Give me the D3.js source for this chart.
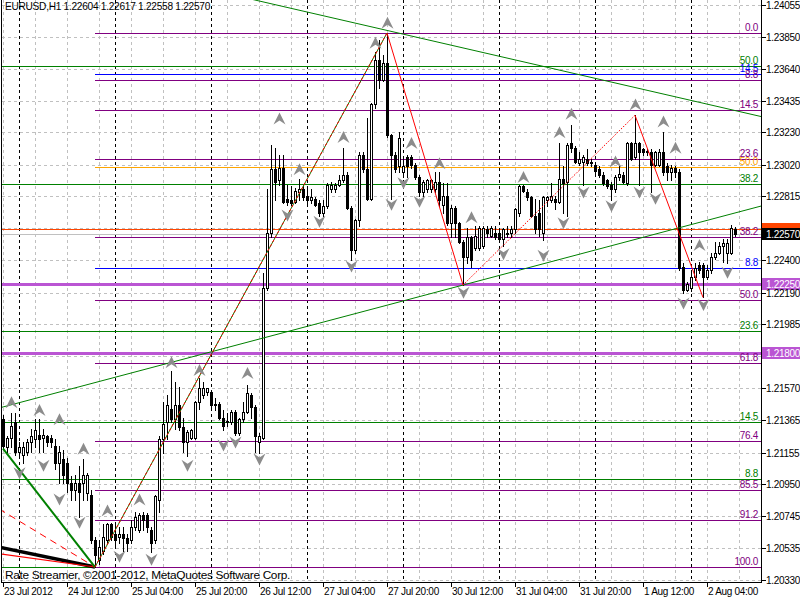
<!DOCTYPE html>
<html><head><meta charset="utf-8">
<script src="https://cdn.jsdelivr.net/npm/d3@7"></script>
<style>
body{margin:0;background:#fff}
svg{display:block}
text{font-family:"Liberation Sans",Arial,sans-serif;font-size:10px;letter-spacing:-0.3px}
</style>
</head><body>
<svg id="c" width="800" height="600"></svg>
<script>
// ---------------- DATA ----------------
const symbolTitle = "EURUSD,H1  1.22604 1.22617 1.22558 1.22570";
const copyright = "Rate Streamer, \u00a92001-2012, MetaQuotes Software Corp.";

const opens = [1.2137,1.2119,1.2125,1.2135,1.2116,1.2114,1.2116,1.2122,1.2124,1.2127,1.2125,1.2126,1.2125,1.2120,1.2109,1.2111,1.2109,1.2096,1.2091,1.2096,
1.2096,1.2089,1.2088,1.2059,1.2046,1.2052,1.2059,1.2069,1.2063,1.2061,1.2063,1.2060,1.2059,1.2067,1.2065,1.2075,1.2075,1.2065,1.2059,1.2085,
1.2124,1.2135,1.2144,1.2137,1.2146,1.2132,1.2122,1.2125,1.2125,1.2148,1.2153,1.2155,1.2155,1.2147,1.2147,1.2138,1.2135,1.2135,1.2142,1.2128,
1.2137,1.2142,1.2153,1.2145,1.2122,1.2125,1.2222,1.2258,1.2299,1.2292,1.2300,1.2280,1.2279,1.2278,1.2284,1.2286,1.2282,1.2279,1.2280,1.2277,
1.2271,1.2275,1.2286,1.2286,1.2289,1.2292,1.2295,1.2274,1.2247,1.2266,1.2308,1.2299,1.2280,1.2341,1.2370,1.2357,1.2368,1.2321,1.2308,1.2301,
1.2297,1.2307,1.2307,1.2302,1.2294,1.2284,1.2286,1.2286,1.2286,1.2291,1.2276,1.2282,1.2264,1.2274,1.2264,1.2252,1.2242,1.2255,1.2248,1.2248,
1.2249,1.2260,1.2256,1.2258,1.2258,1.2254,1.2257,1.2258,1.2260,1.2271,1.2288,1.2284,1.2281,1.2269,1.2271,1.2258,1.2279,1.2279,1.2280,1.2278,
1.2293,1.2291,1.2316,1.2313,1.2303,1.2304,1.2306,1.2303,1.2302,1.2299,1.2295,1.2292,1.2289,1.2286,1.2294,1.2295,1.2290,1.2316,1.2307,1.2316,
1.2312,1.2310,1.2310,1.2302,1.2302,1.2310,1.2301,1.2297,1.2300,1.2297,1.2236,1.2221,1.2222,1.2229,1.2237,1.2237,1.2229,1.2234,1.2242,1.2245,
1.2249,1.2245,1.2245,1.22604];
const highs = [1.2140,1.2126,1.2141,1.2141,1.2122,1.2122,1.2124,1.2131,1.2137,1.2137,1.2131,1.2127,1.2127,1.2124,1.2120,1.2117,1.2112,1.2100,1.2101,1.2107,
1.2111,1.2102,1.2091,1.2061,1.2059,1.2069,1.2070,1.2070,1.2070,1.2067,1.2067,1.2063,1.2072,1.2077,1.2076,1.2077,1.2076,1.2067,1.2088,1.2126,
1.2148,1.2153,1.2168,1.2161,1.2158,1.2138,1.2130,1.2131,1.2149,1.2164,1.2161,1.2157,1.2156,1.2151,1.2148,1.2143,1.2141,1.2143,1.2143,1.2138,
1.2148,1.2159,1.2154,1.2146,1.2128,1.2232,1.2286,1.2315,1.2313,1.2308,1.2308,1.2289,1.2288,1.2287,1.2293,1.2289,1.2287,1.2286,1.2281,1.2279,
1.2279,1.2290,1.2291,1.2290,1.2295,1.2313,1.2297,1.2275,1.2267,1.2310,1.2310,1.2332,1.2342,1.2375,1.2383,1.2373,1.2387,1.2322,1.2310,1.2323,
1.2307,1.2308,1.2308,1.2303,1.2295,1.2292,1.2293,1.2293,1.2297,1.2297,1.2290,1.2290,1.2276,1.2275,1.2265,1.2253,1.2261,1.2256,1.2262,1.2262,
1.2262,1.2262,1.2262,1.2262,1.2261,1.2261,1.2262,1.2262,1.2274,1.2289,1.2289,1.2286,1.2282,1.2280,1.2279,1.2282,1.2282,1.2290,1.2282,1.2316,
1.2301,1.2316,1.2328,1.2314,1.2310,1.2308,1.2312,1.2306,1.2303,1.2301,1.2297,1.2293,1.2291,1.2295,1.2302,1.2297,1.2317,1.2317,1.2334,1.2317,
1.2313,1.2312,1.2312,1.2311,1.2312,1.2323,1.2303,1.2302,1.2301,1.2299,1.2238,1.2226,1.2234,1.2238,1.2239,1.2238,1.2237,1.2245,1.2252,1.2252,
1.2254,1.2254,1.2263,1.22617];
const lows = [1.2118,1.2116,1.2119,1.2114,1.2112,1.2109,1.2114,1.2116,1.2119,1.2116,1.2116,1.2120,1.2119,1.2105,1.2096,1.2096,1.2090,1.2085,1.2085,1.2074,
1.2085,1.2085,1.2057,1.2041,1.2043,1.2050,1.2056,1.2059,1.2054,1.2057,1.2052,1.2052,1.2057,1.2065,1.2064,1.2065,1.2064,1.2051,1.2057,1.2077,
1.2115,1.2124,1.2135,1.2131,1.2130,1.2116,1.2113,1.2124,1.2124,1.2144,1.2151,1.2153,1.2145,1.2143,1.2137,1.2130,1.2133,1.2134,1.2127,1.2127,
1.2135,1.2141,1.2138,1.2116,1.2115,1.2124,1.2221,1.2255,1.2279,1.2289,1.2277,1.2276,1.2276,1.2277,1.2279,1.2279,1.2277,1.2277,1.2275,1.2269,
1.2269,1.2274,1.2284,1.2284,1.2288,1.2291,1.2273,1.2240,1.2245,1.2262,1.2297,1.2279,1.2279,1.2339,1.2352,1.2356,1.2320,1.2280,1.2297,1.2297,
1.2294,1.2294,1.2300,1.2293,1.2282,1.2282,1.2284,1.2284,1.2284,1.2275,1.2271,1.2263,1.2255,1.2255,1.2251,1.2224,1.2238,1.2236,1.2247,1.2247,
1.2248,1.2255,1.2255,1.2254,1.2253,1.2249,1.2255,1.2255,1.2258,1.2269,1.2284,1.2279,1.2268,1.2258,1.2256,1.2253,1.2275,1.2278,1.2273,1.2277,
1.2271,1.2269,1.2310,1.2303,1.2302,1.2289,1.2302,1.2301,1.2296,1.2294,1.2289,1.2287,1.2279,1.2284,1.2292,1.2290,1.2289,1.2305,1.2306,1.2289,
1.2308,1.2308,1.2284,1.2301,1.2301,1.2295,1.2292,1.2292,1.2294,1.2234,1.2219,1.2220,1.2220,1.2227,1.2232,1.2216,1.2228,1.2232,1.2241,1.2244,
1.2239,1.2238,1.2244,1.22558];
const closes = [1.2120,1.2125,1.2133,1.2116,1.2119,1.2119,1.2122,1.2126,1.2130,1.2124,1.2127,1.2122,1.2122,1.2109,1.2116,1.2101,1.2096,1.2091,1.2096,1.2090,
1.2101,1.2101,1.2059,1.2049,1.2054,1.2061,1.2069,1.2061,1.2059,1.2063,1.2060,1.2057,1.2067,1.2074,1.2075,1.2072,1.2067,1.2057,1.2087,1.2124,
1.2134,1.2146,1.2137,1.2146,1.2132,1.2122,1.2129,1.2130,1.2148,1.2157,1.2157,1.2157,1.2146,1.2146,1.2138,1.2133,1.2136,1.2142,1.2128,1.2137,
1.2142,1.2154,1.2145,1.2126,1.2126,1.2222,1.2258,1.2299,1.2291,1.2300,1.2278,1.2278,1.2277,1.2285,1.2286,1.2281,1.2279,1.2281,1.2276,1.2271,
1.2275,1.2289,1.2289,1.2289,1.2292,1.2295,1.2274,1.2247,1.2266,1.2308,1.2299,1.2280,1.2341,1.2370,1.2357,1.2368,1.2321,1.2308,1.2299,1.2319,
1.2301,1.2301,1.2302,1.2294,1.2284,1.2291,1.2292,1.2292,1.2291,1.2279,1.2282,1.2264,1.2274,1.2264,1.2252,1.2242,1.2255,1.2240,1.2256,1.2261,
1.2261,1.2258,1.2261,1.2255,1.2254,1.2260,1.2258,1.2260,1.2273,1.2288,1.2285,1.2281,1.2269,1.2260,1.2260,1.2281,1.2281,1.2282,1.2278,1.2293,
1.2290,1.2315,1.2313,1.2304,1.2306,1.2307,1.2303,1.2304,1.2298,1.2295,1.2290,1.2288,1.2286,1.2294,1.2296,1.2291,1.2316,1.2306,1.2316,1.2310,
1.2310,1.2311,1.2302,1.2310,1.2310,1.2297,1.2297,1.2300,1.2297,1.2235,1.2221,1.2225,1.2229,1.2235,1.2234,1.2229,1.2234,1.2242,1.2245,1.2249,
1.2251,1.2251,1.2261,1.22570];

const priceTicks = [1.24055,1.23850,1.23640,1.23435,1.23230,1.23020,1.22815,1.22610,1.22400,1.22190,1.21985,1.21780,1.21570,1.21365,1.21155,1.20950,1.20745,1.20535,1.20330];
const timeTickIdx = [0,16,32,48,64,80,96,112,128,144,160,176];
const timeTickLabels = ["23 Jul 2012","24 Jul 12:00","25 Jul 04:00","25 Jul 20:00","26 Jul 12:00","27 Jul 04:00","27 Jul 20:00","30 Jul 12:00","31 Jul 04:00","31 Jul 20:00","1 Aug 12:00","2 Aug 04:00"];
const daySeparatorIdx = [4,28,52,76,100,124,148,172];

// fractal markers [bar index, price]
const fractalUp = [[2,1.2148],[9,1.2143],[14,1.2137],[20,1.2118],[26,1.2078],[34,1.2085],[42,1.2174],[49,1.2169],[61,1.2167],[69,1.2332],[74,1.2299],[85,1.2320],[93,1.2381],[96,1.2394],[102,1.2316],[109,1.2303],[117,1.2268],[130,1.2294],[139,1.2323],[142,1.2335],[153,1.2304],[158,1.2341],[165,1.2330],[168,1.2313],[174,1.2250]];
const fractalDown = [[4,1.2102],[10,1.2107],[14,1.2085],[19,1.2070],[29,1.2048],[37,1.2046],[46,1.2107],[55,1.2120],[58,1.2122],[64,1.2111],[71,1.2269],[79,1.2265],[87,1.2236],[97,1.2276],[100,1.2290],[104,1.2278],[115,1.2219],[125,1.2244],[135,1.2243],[140,1.2264],[145,1.2284],[152,1.2275],[159,1.2284],[163,1.2280],[170,1.2212],[175,1.2211],[181,1.2232]];

// Fibonacci sets
const fibPurpleStart = 23, fibPurpleHigh = 1.23873, fibPurpleLow = 1.20413;
const fibPurpleLevels = [0,8.8,14.5,23.6,38.2,50.0,61.8,76.4,85.5,91.2,100.0];
const fibGreenBase = 1.20413, fibGreenRange = 0.06492;
const fibGreenLevels = [0,8.8,14.5,23.6,38.2,50.0];
const fibBlueStart = 23, fibBlueBase = 1.20413, fibBlueRange = 0.2201;
const fibBlueLevels = [8.8,14.5];
const fibOrangeStart = 23, fibOrangePrice = 1.23005;

// horizontal lines
const hLinePrices = [1.22600, 1.22250, 1.21800];
const hLineColors = ["#ff4500", "#ba55d3", "#ba55d3"];
const hLineWidths = [1, 3, 3];
const bidPrice = 1.22570;

// trend lines [bar index, price]
const trendUp = [[0,1.2145],[115,1.2224]];
const trendDown = [[96,1.2389],[158,1.2352]];
const zigzag = [[23,1.20413],[96,1.23873],[115,1.2224],[158,1.2334],[175,1.2216]];
const llGreen = [[0,1.2118],[23,1.20413]];
const llRedDash = [[-1,1.2079],[23,1.20413]];
const llBlack = [[-1,1.20542],[23,1.20413]];
const llRed = [[-1,1.2050],[23,1.20413]];

// ---------------- DRAW ----------------
const svg = d3.select("#c");
const plotL = 2, plotR = 761, plotB = 582;
const x = d3.scaleLinear().domain([0,183]).range([3,735]);
const y = d3.scaleLinear().domain([1.20316,1.24087]).range([582,0]);
const lastIdx = (plotR - 3) / 4 + 1;

svg.append("defs").append("clipPath").attr("id","plot")
  .append("rect").attr("x",plotL).attr("y",0).attr("width",plotR-plotL).attr("height",plotB);

const crisp = svg.append("g").attr("shape-rendering","crispEdges").attr("clip-path","url(#plot)");
// grid
priceTicks.forEach(p => {
  const yy = Math.round(y(p)) + 0.5;
  crisp.append("line").attr("x1",plotL).attr("x2",plotR).attr("y1",yy).attr("y2",yy)
    .attr("stroke","#c0c0c0").attr("stroke-dasharray","3,3");
});
for (let i = 0; i <= 190; i += 8) {
  const xx = Math.round(x(i)) + 0.5;
  crisp.append("line").attr("x1",xx).attr("x2",xx).attr("y1",0).attr("y2",plotB)
    .attr("stroke","#c0c0c0").attr("stroke-dasharray","3,3");
}
daySeparatorIdx.forEach(i => {
  const xx = Math.round(x(i)) + 0.5;
  crisp.append("line").attr("x1",xx).attr("x2",xx).attr("y1",0).attr("y2",plotB)
    .attr("stroke","#000").attr("stroke-dasharray","3,3");
});

function hline(p, x0, color, w) {
  const yy = Math.round(y(p)) + (w % 2 ? 0.5 : 0);
  crisp.append("line").attr("x1",x0).attr("x2",plotR).attr("y1",yy).attr("y2",yy)
    .attr("stroke",color).attr("stroke-width",w);
  return yy;
}
const labels = [];
// green fib (full width)
fibGreenLevels.forEach(l => {
  const p = fibGreenBase + l/100*fibGreenRange;
  const yy = hline(p, plotL, "#008000", 1);
  if (l > 0) labels.push([yy, l.toFixed(1), "#008000"]);
});
// blue fib
fibBlueLevels.forEach(l => {
  const p = fibBlueBase + l/100*fibBlueRange;
  const yy = hline(p, x(fibBlueStart), "#0000ff", 1);
  labels.push([yy, l.toFixed(1), "#0000ff"]);
});
// orange fib
{ const yy = hline(fibOrangePrice, x(fibOrangeStart), "#ffa500", 1); labels.push([yy, "50.0", "#ffa500"]); }
// horizontal lines
hLinePrices.forEach((p,k) => hline(p, plotL, hLineColors[k], hLineWidths[k]));
hline(bidPrice, plotL, "#c0c0c0", 1);
// purple fib
fibPurpleLevels.forEach(l => {
  const p = fibPurpleHigh - l/100*(fibPurpleHigh - fibPurpleLow);
  const yy = hline(p, x(fibPurpleStart), "#800080", 1);
  labels.push([yy, l.toFixed(1), "#800080"]);
});

// candles
const cg = svg.append("g").attr("shape-rendering","crispEdges").attr("clip-path","url(#plot)");
opens.forEach((o,i) => {
  const c = closes[i], cx = Math.round(x(i));
  cg.append("line").attr("x1",cx+0.5).attr("x2",cx+0.5)
    .attr("y1",Math.round(y(highs[i]))).attr("y2",Math.round(y(lows[i]))+1).attr("stroke","#000");
  const top = Math.round(y(Math.max(o,c))), bot = Math.round(y(Math.min(o,c)));
  if (c > o) {
    cg.append("rect").attr("x",cx-0.5).attr("y",top+0.5).attr("width",2).attr("height",Math.max(1,bot-top))
      .attr("fill","#fff").attr("stroke","#000");
  } else {
    cg.append("rect").attr("x",cx-1).attr("y",top).attr("width",3).attr("height",Math.max(1,bot-top+1))
      .attr("fill","#000");
  }
});

// trend / zigzag lines
const lg = svg.append("g").attr("clip-path","url(#plot)");
function extLine(pts, color, w, dash) {
  const [a,b] = pts;
  const k = (b[1]-a[1])/(b[0]-a[0]);
  const i0 = -2, i1 = lastIdx + 2;
  lg.append("line").attr("x1",x(i0)).attr("y1",y(a[1]+k*(i0-a[0])))
    .attr("x2",x(i1)).attr("y2",y(a[1]+k*(i1-a[0])))
    .attr("stroke",color).attr("stroke-width",w).attr("stroke-dasharray",dash||null);
}
function seg(a, b, color, w, dash) {
  lg.append("line").attr("x1",x(a[0])).attr("y1",y(a[1])).attr("x2",x(b[0])).attr("y2",y(b[1]))
    .attr("stroke",color).attr("stroke-width",w).attr("stroke-dasharray",dash||null);
}
extLine(trendUp, "#008000", 1);
extLine(trendDown, "#008000", 1);
seg(llBlack[0], llBlack[1], "#000", 3.5);
seg(llRed[0], llRed[1], "#ff0000", 1.2);
seg(llRedDash[0], llRedDash[1], "#ff0000", 1, "7,5");
seg(llGreen[0], llGreen[1], "#008000", 2);
seg(zigzag[0], zigzag[1], "#008000", 1);
seg(zigzag[0], zigzag[1], "#ff0000", 1, "3,2");
seg(zigzag[1], zigzag[2], "#ff0000", 1);
seg(zigzag[2], zigzag[3], "#ff0000", 1, "1.5,1.5");
seg(zigzag[3], zigzag[4], "#ff0000", 1);

// fractal arrows
const ag = svg.append("g").attr("clip-path","url(#plot)");
fractalUp.forEach(([i,p]) => {
  ag.append("path").attr("transform",`translate(${Math.round(x(i))+0.5},${y(p)})`)
    .attr("d","M0,-6 L6,6 L0,2 L-6,6 Z").attr("fill","#8c8c8c");
});
fractalDown.forEach(([i,p]) => {
  ag.append("path").attr("transform",`translate(${Math.round(x(i))+0.5},${y(p)})`)
    .attr("d","M0,6 L6,-6 L0,-2 L-6,-6 Z").attr("fill","#8c8c8c");
});

// fib labels
labels.forEach(([yy, t, col]) => {
  svg.append("text").attr("x",758).attr("y",yy-3).attr("text-anchor","end").attr("fill",col).text(t);
});

// frame and axes
const fg = svg.append("g").attr("shape-rendering","crispEdges");
fg.append("line").attr("x1",plotR+0.5).attr("x2",plotR+0.5).attr("y1",0).attr("y2",plotB+1).attr("stroke","#000");
fg.append("line").attr("x1",plotL-0.5).attr("x2",plotL-0.5).attr("y1",0).attr("y2",plotB+1).attr("stroke","#000");
fg.append("line").attr("x1",plotL-1).attr("x2",plotR+1).attr("y1",plotB+0.5).attr("y2",plotB+0.5).attr("stroke","#000");

const boxPrices = hLinePrices.concat([bidPrice]);
const boxColors = hLineColors.concat(["#000"]);
priceTicks.forEach(p => {
  const yy = Math.round(y(p)) + 0.5;
  fg.append("line").attr("x1",plotR).attr("x2",plotR+5).attr("y1",yy).attr("y2",yy).attr("stroke","#000");
  const hidden = boxPrices.some(b => Math.abs(y(b) - y(p)) < 7);
  if (!hidden) svg.append("text").attr("x",766).attr("y",yy+3.5).attr("fill","#000").text(p.toFixed(5));
});
timeTickIdx.forEach((i,k) => {
  const xx = Math.round(x(i)) + 0.5;
  fg.append("line").attr("x1",xx).attr("x2",xx).attr("y1",plotB).attr("y2",plotB+5).attr("stroke","#000");
  svg.append("text").attr("x",xx+0.5).attr("y",595).attr("fill","#000").text(timeTickLabels[k]);
});

// axis price boxes
boxPrices.forEach((p,k) => {
  const yy = Math.round(y(p));
  fg.append("rect").attr("x",plotR+1).attr("y",yy-6).attr("width",800-plotR-1).attr("height",12).attr("fill",boxColors[k]);
  // the orange-red box is mostly covered by the bid box, as in the reference
  if (k !== 0) svg.append("text").attr("x",766).attr("y",yy+4).attr("fill","#fff").text(p.toFixed(5));
});

// texts
svg.append("text").attr("x",5).attr("y",10).attr("fill","#000").style("font-size","11px")
  .attr("textLength",205).attr("lengthAdjust","spacingAndGlyphs").text(symbolTitle);
svg.append("text").attr("x",5).attr("y",579).attr("fill","#000").style("font-size","11px")
  .attr("textLength",285).attr("lengthAdjust","spacingAndGlyphs").text(copyright);
</script>
</body></html>
